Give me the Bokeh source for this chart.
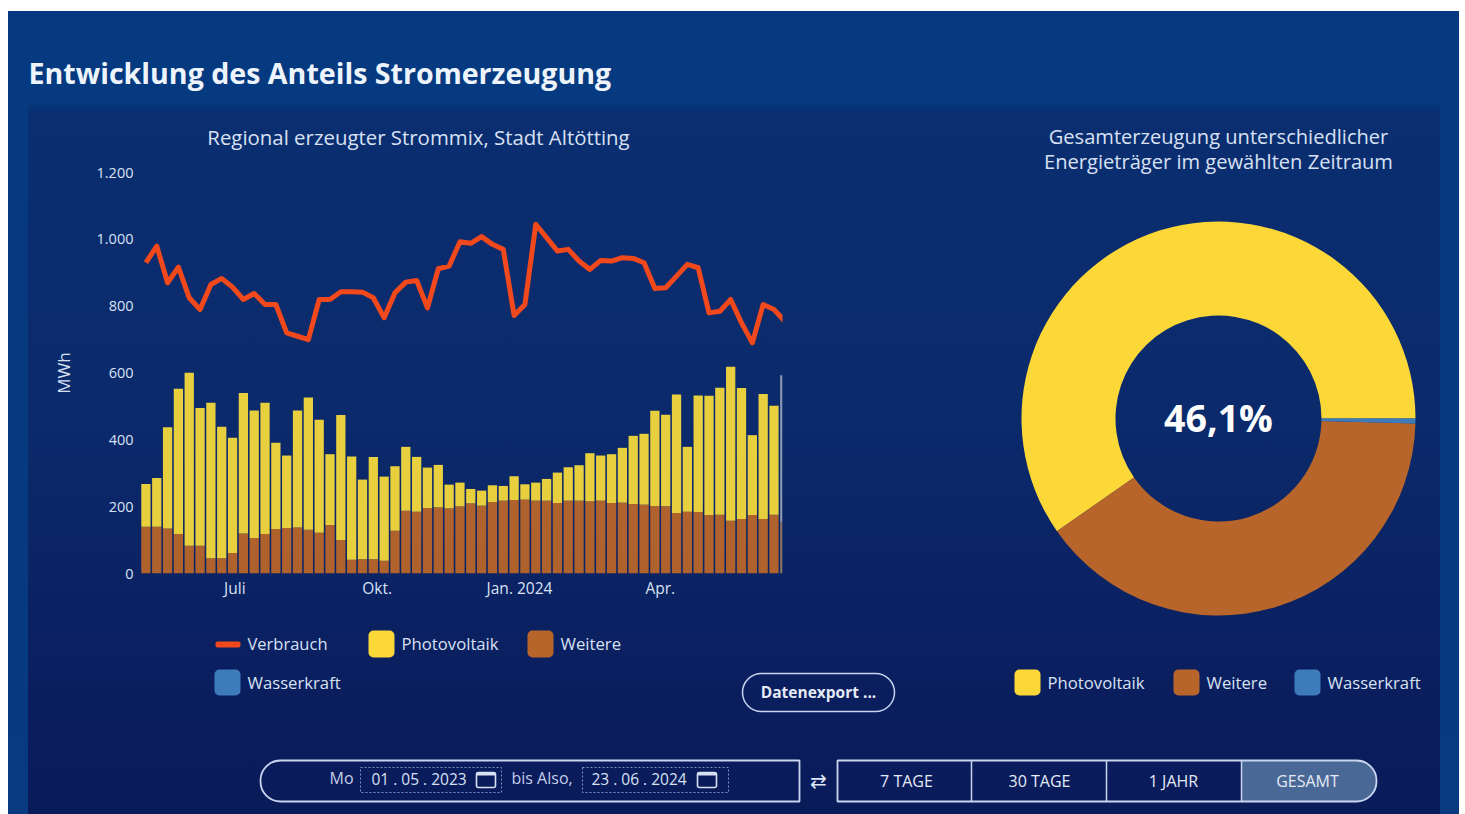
from datetime import datetime, timezone
import numpy as np
from bokeh.embed import file_html
from bokeh.resources import INLINE
from bokeh.layouts import column, row
from bokeh.models import Label, BoxAnnotation, FixedTicker, Range1d, ColumnDataSource
from bokeh.plotting import figure

# ---- data ----
photovoltaik_top = [268,286,438,553,601,495,511,439,406,540,488,511,391,353,488,527,460,357,474,350,281,349,290,321,379,349,317,325,266,272,
                    253,248,264,262,291,267,272,283,302,318,324,360,353,357,376,412,418,487,475,536,379,533,532,556,619,555,414,537,502,593]
weitere = [140,140,135,118,83,83,46,46,61,120,106,118,133,136,138,131,122,145,100,41,43,43,38,128,188,185,196,198,195,201,
           210,203,214,218,220,221,218,218,211,218,218,216,218,211,212,208,206,202,201,181,185,184,175,176,158,163,175,163,176,153]
verbrauch = [930,980,870,917,825,790,865,883,857,820,838,805,805,720,710,700,820,820,843,843,842,825,765,840,872,877,795,912,920,993,
             988,1008,985,970,772,805,1045,1005,965,970,935,910,937,935,945,943,930,853,855,890,925,915,780,785,820,750,690,805,790,755]
y_ticks = [0,200,400,600,800,1000,1200]
y_tick_labels = ["0","200","400","600","800","1.000","1.200"]
x_tick_dates = ["2023-07-01","2023-10-01","2024-01-01","2024-04-01"]
x_tick_labels = ["Juli","Okt.","Jan. 2024","Apr."]
donut_names = ["Photovoltaik","Weitere","Wasserkraft"]
donut_shares = [59.7,39.9,0.4]
center_text = "46,1%"

YELLOW_BAR="#e8cf3e"; BROWN_BAR="#b0622c"; GREY="#8b9bb3"; GREY_B="#8d7565"
YELLOW="#fbd737"; BROWN="#b8652b"; BLUE="#3d7bbb"; RED="#f1481c"
TXT="#d8e1f3"; LINE="#c9d5ee"; FONT="Open Sans"

def ms(s):
    return datetime.strptime(s,"%Y-%m-%d").replace(tzinfo=timezone.utc).timestamp()*1000
DAY=86400000.0
week_centers=[ms("2023-05-01")+DAY*(3.5+7*i) for i in range(len(weitere))]

BG=("linear-gradient(rgba(10,46,112,0) 0px,#0a2e70 14px,#0b2a6b 45%,#0a1c5c 90%,#0a1b5a 100%) 28px 100px / 1412px 714px no-repeat fixed,"
    "linear-gradient(#053a80,#073a80) 8px 11px / 1451px 803px no-repeat fixed")
def make(w,h,**kw):
    p=figure(width=w,height=h,output_backend="svg",toolbar_location=None,frame_align=False,**kw)
    p.styles={"background":BG}
    p.border_fill_alpha=0; p.background_fill_alpha=0; p.outline_line_color=None
    p.grid.visible=False
    return p
def full(w,h):
    p=make(w,h,x_range=Range1d(0,w),y_range=Range1d(0,h),min_border=0,min_border_left=0,min_border_right=0,min_border_top=0,min_border_bottom=0)
    p.axis.visible=False
    return p

# ---- the chart ----
chart=make(1000,452,x_range=Range1d(ms("2023-05-01"),ms("2024-06-19")),y_range=Range1d(0,1200),
          min_border_left=140,min_border_right=218,min_border_top=12,min_border_bottom=39)
chart.xaxis.ticker=FixedTicker(ticks=[ms(d) for d in x_tick_dates])
chart.xaxis.major_label_overrides={ms(d):t for d,t in zip(x_tick_dates,x_tick_labels)}
chart.yaxis.ticker=FixedTicker(ticks=y_ticks)
chart.yaxis.major_label_overrides=dict(zip(y_ticks,y_tick_labels))
for a in (chart.xaxis[0],chart.yaxis[0]):
    a.axis_line_color=None; a.major_tick_line_color=None; a.minor_tick_line_color=None
    a.major_tick_out=0; a.major_tick_in=0; a.minor_tick_out=0; a.minor_tick_in=0
    a.major_label_text_color=TXT; a.major_label_text_font=FONT
chart.xaxis.major_label_text_font_size="15.5px"; chart.xaxis.major_label_standoff=3
chart.yaxis.major_label_text_font_size="14.5px"; chart.yaxis.major_label_standoff=7
chart.yaxis.axis_label="MWh"; chart.yaxis.axis_label_text_color=TXT; chart.yaxis.axis_label_text_font=FONT
chart.yaxis.axis_label_text_font_size="17px"; chart.yaxis.axis_label_text_font_style="normal"
chart.yaxis.axis_label_standoff=19

src=ColumnDataSource(dict(x=week_centers,w=weitere,p=photovoltaik_top,v=verbrauch,
    cp=[YELLOW_BAR]*59+[GREY],cw=[BROWN_BAR]*59+[GREY_B]))
chart.vbar(x="x",width=6*DAY,bottom=0,top="w",fill_color="cw",line_color=None,source=src)
chart.vbar(x="x",width=6*DAY,bottom="w",top="p",fill_color="cp",line_color=None,source=src)
chart.line(x="x",y="v",line_color=RED,line_width=5,line_join="round",source=src)

head=full(1000,160)
foot=full(1000,110)
strip=full(1459,92)

# ---- right figure: donut ----
right=make(459,722,x_range=Range1d(1000,1459),y_range=Range1d(92,814),
           min_border=0,min_border_left=0,min_border_right=0,min_border_top=0,min_border_bottom=0)
right.axis.visible=False
edges=np.cumsum([0]+donut_shares)/100*2*np.pi
right.annular_wedge(x=1218,y=814-418,inner_radius=103,outer_radius=197,start_angle=edges[:-1],end_angle=edges[1:],
                    fill_color=[YELLOW,BROWN,BLUE],line_color=None)

ORIGIN={id(head):(0,160),id(foot):(0,722),id(right):(1000,722),id(strip):(0,814)}
def txt(p,x,y,s,size,color=TXT,align="left",bold=False,font=FONT):
    ox,oy=ORIGIN[id(p)]
    p.add_layout(Label(x=x-ox,y=oy-y,x_units="screen",y_units="screen",text=s,text_font=font,text_font_size=f"{size}px",
        text_color=color,text_align=align,text_baseline="middle",text_font_style="bold" if bold else "normal"))
def box(p,x0,x1,y0,y1,fill=None,line=None,lw=1.5,r=0,dash="solid"):
    ox,oy=ORIGIN[id(p)]
    p.add_layout(BoxAnnotation(left=x0-ox,right=x1-ox,top=oy-y0,bottom=oy-y1,
        left_units="screen",right_units="screen",top_units="screen",bottom_units="screen",
        fill_color=fill,fill_alpha=1 if fill else 0,line_color=line,line_alpha=1 if line else 0,line_width=lw,line_dash=dash,
        border_radius=r,level="annotation",editable=False))

# header + labels
txt(head,28,72,"Entwicklung des Anteils Stromerzeugung",28.6,color="#eef4fb",bold=True)
txt(head,418,136,"Regional erzeugter Strommix, Stadt Altötting",20.4,align="center")
box(foot,215,240,641,647,fill=RED,r=2)
txt(foot,247,643,"Verbrauch",16.5)
box(foot,368,394,630,657,fill=YELLOW,r=5)
txt(foot,401,643,"Photovoltaik",16.7)
box(foot,527,553,630,657,fill=BROWN,r=5)
txt(foot,560,643,"Weitere",16.7)
box(foot,214,240,669,695,fill=BLUE,r=5)
txt(foot,247,682,"Wasserkraft",16.7)
box(foot,742,894,673,711,line=LINE,lw=1.5,r=19)
txt(foot,818,691,"Datenexport ...",15.5,color="#e4ebf7",align="center",bold=True)

txt(right,1218,136,"Gesamterzeugung unterschiedlicher",20.1,align="center")
txt(right,1218,161,"Energieträger im gewählten Zeitraum",20.1,align="center")
txt(right,1218,417,center_text,37.5,color="#ffffff",align="center",bold=True)
for sx,tx,name,c in zip((1014,1173,1294),(1047,1206,1327),donut_names,(YELLOW,BROWN,BLUE)):
    box(right,sx,sx+26,669,695,fill=c,r=5)
    txt(right,tx,682,name,16.7)

# controls
box(strip,260,799,760,801,line=LINE,lw=1.8,r={"top_left":20,"bottom_left":20,"top_right":0,"bottom_right":0})
txt(strip,329,777,"Mo",16,color="#c3cfe8")
box(strip,360,501,767,792,line="#7f93c6",lw=1,dash="2 2")
txt(strip,371,778,"01 . 05 . 2023",15.5)
txt(strip,511,777,"bis Also,",16,color="#c3cfe8")
box(strip,582,728,767,792,line="#7f93c6",lw=1,dash="2 2")
txt(strip,591,778,"23 . 06 . 2024",15.5)
for ix in (476,697):
    box(strip,ix,ix+19,772,787,line=TXT,lw=1.6,r=2)
    box(strip,ix,ix+19,772,775,fill=TXT)
txt(strip,818,780,"⇄",20,align="center",color="#dfe6f5",font="DejaVu Sans")
box(strip,1241,1376,760,801,fill="#4a6896",r={"top_left":0,"bottom_left":0,"top_right":20,"bottom_right":20})
box(strip,837,1376,760,801,line=LINE,lw=1.8,r={"top_left":0,"bottom_left":0,"top_right":20,"bottom_right":20})
for xs in (971,1106,1241):
    box(strip,xs,xs,760,801,line=LINE,lw=1.5)
for xc,name in zip((906,1039,1173,1307),("7 TAGE","30 TAGE","1 JAHR","GESAMT")):
    txt(strip,xc,780,name,16,color="#e4ebf7",align="center")

page=column(row(column(head,chart,foot,spacing=0),right,spacing=0),strip,spacing=0)
open("out.html","w").write(file_html(page,INLINE))
